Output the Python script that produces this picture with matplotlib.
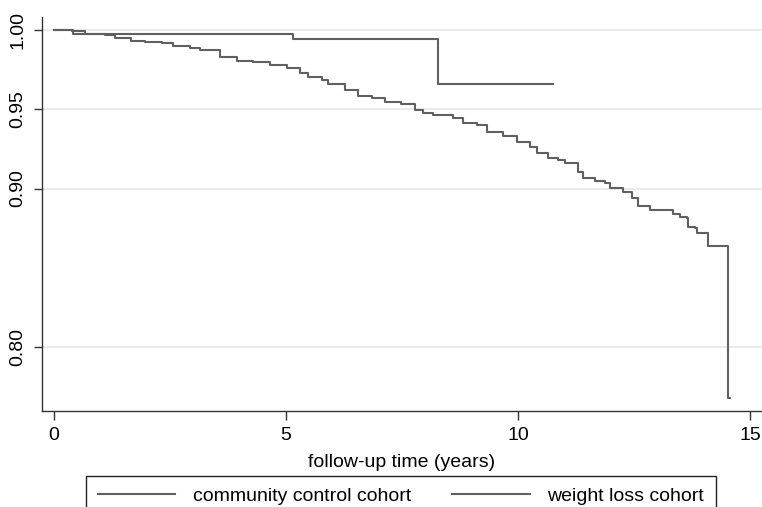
import matplotlib.pyplot as plt
from matplotlib.lines import Line2D

plt.rcParams["font.family"] = ["Liberation Sans", "DejaVu Sans"]

# Kaplan-Meier survival estimates (years, proportion)
community_time = [0.00, 0.38, 0.67, 1.10, 1.31, 1.67, 1.96, 2.32, 2.56, 2.93,
                  3.15, 3.58, 3.94, 4.29, 4.66, 5.02, 5.30, 5.47, 5.77, 5.91,
                  6.27, 6.55, 6.85, 7.13, 7.49, 7.78, 7.95, 8.17, 8.60, 8.81,
                  9.11, 9.33, 9.68, 9.97, 10.26, 10.40, 10.65, 10.86, 11.01, 11.29,
                  11.40, 11.66, 11.88, 11.98, 12.26, 12.45, 12.59, 12.84, 13.34, 13.49,
                  13.64, 13.66, 13.81, 13.85, 14.09, 14.53, 14.56]
community_surv = [1.0000, 0.9995, 0.9979, 0.9968, 0.9953, 0.9934, 0.9926, 0.9922, 0.9901, 0.9886,
                  0.9875, 0.9833, 0.9806, 0.9798, 0.9781, 0.9764, 0.9732, 0.9707, 0.9686, 0.9661,
                  0.9623, 0.9587, 0.9570, 0.9545, 0.9534, 0.9496, 0.9479, 0.9465, 0.9444, 0.9416,
                  0.9401, 0.9359, 0.9332, 0.9296, 0.9264, 0.9222, 0.9191, 0.9180, 0.9159, 0.9106,
                  0.9064, 0.9049, 0.9037, 0.9001, 0.8980, 0.8938, 0.8891, 0.8864, 0.8839, 0.8822,
                  0.8812, 0.8759, 0.8748, 0.8717, 0.8637, 0.7674, 0.7674]

weightloss_time = [0.00, 0.40, 5.15, 8.28, 10.75]
weightloss_surv = [1.0000, 0.9979, 0.9945, 0.9661, 0.9661]

labels = ["community control cohort", "weight loss cohort"]
y_ticks = [0.80, 0.90, 0.95, 1.00]
x_ticks = [0, 5, 10, 15]

LINE_COLOR = "#606060"
FS = 14

fig = plt.figure(figsize=(7.62, 5.07), dpi=100)
ax = fig.add_axes([0.0547, 0.1893, 0.9453, 0.7766])

ax.plot(community_time, community_surv, drawstyle="steps-post",
        color=LINE_COLOR, linewidth=1.5)
ax.plot(weightloss_time, weightloss_surv, drawstyle="steps-post",
        color=LINE_COLOR, linewidth=1.5)

ax.set_xlim(-0.265, 15.26)
ax.set_ylim(0.7594, 1.0082)
ax.set_yticks(y_ticks)
ax.set_yticklabels([f"{v:.2f}" for v in y_ticks], rotation=90, va="center")
ax.set_xticks(x_ticks)

ax.grid(axis="y", color="#ebebeb", linewidth=1.5)
ax.set_axisbelow(True)
for side in ("top", "right"):
    ax.spines[side].set_visible(False)
for side in ("left", "bottom"):
    ax.spines[side].set_color("#333333")
    ax.spines[side].set_linewidth(1.0)

ax.tick_params(axis="y", length=6, width=1, color="#333333", labelsize=FS, pad=5)
ax.tick_params(axis="x", length=6.5, width=1, color="#333333", labelsize=FS, pad=5)
ax.set_xlabel("follow-up time (years)", fontsize=FS, labelpad=7)

handles = [Line2D([], [], color=LINE_COLOR, linewidth=1.5) for _ in labels]
leg = fig.legend(handles, labels, ncol=2, loc="upper center",
                 bbox_to_anchor=(0.526, 0.0611), borderaxespad=0, fontsize=FS,
                 handlelength=4.0, handletextpad=0.9, columnspacing=2.1,
                 borderpad=0.6, fancybox=False, framealpha=1, edgecolor="#222222")
leg.get_frame().set_linewidth(1.0)

fig.savefig("out.png", dpi=100)
